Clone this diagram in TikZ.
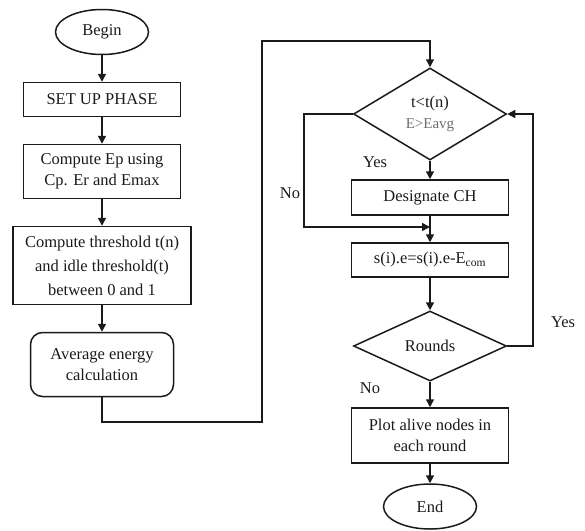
\documentclass[tikz,border=0pt]{standalone}
\usepackage{fontspec}
\setmainfont{Liberation Serif}
\usetikzlibrary{arrows.meta,positioning,shapes.geometric}
\definecolor{ink}{HTML}{1A1A1A}
\definecolor{soft}{HTML}{6E6E6E}

\begin{document}
\begin{tikzpicture}[x=1pt,y=-1pt,>={Triangle[length=8pt,width=8pt]},
  every node/.style={font=\fontsize{16.5}{21}\selectfont,text=ink},
  box/.style={draw=ink,line width=1.5pt,minimum width=157pt,align=center,inner sep=2pt},
  term/.style={draw=ink,line width=1.5pt,ellipse,minimum width=93pt,minimum height=45pt,inner sep=0pt},
  decide/.style={draw=ink,line width=1.5pt,diamond,align=center,inner sep=0pt,minimum width=153pt},
  lnk/.style={->,line width=1.5pt,draw=ink}]
\useasboundingbox (0,0) rectangle (585,530);
% left column
\node[term] (begin) at (102,32) {Begin};
\node[box,minimum height=34pt,below=26.5pt of begin] (setup) {SET UP PHASE};
\node[box,minimum height=54pt,below=26.5pt of setup] (ep) {Compute Ep using\\Cp. Er and Emax};
\node[box,minimum width=178pt,minimum height=78pt,below=26.5pt of ep] (thr) {Compute threshold t(n)\\[3pt]and idle threshold(t)\\[3pt]between 0 and 1};
\node[box,rounded corners=12pt,minimum width=143pt,minimum height=64pt,below=26.5pt of thr] (avg) {Average energy\\calculation};
\draw[lnk] (begin) -- (setup); \draw[lnk] (setup) -- (ep); \draw[lnk] (ep) -- (thr); \draw[lnk] (thr) -- (avg);
% right column
\node[decide,minimum height=92pt] (d1) at (430,114) {t<t(n)\\{\color{soft}\fontsize{15}{18}\selectfont E>Eavg}};
\node[box,minimum height=35pt,below=18.5pt of d1] (desig) {Designate CH};
\node[box,minimum height=34pt,below=26.5pt of desig] (sie) {s(i).e=s(i).e-E\textsubscript{com}};
\node[decide,minimum height=70pt,below=32.5pt of sie] (d2) {Rounds};
\node[box,minimum height=55pt,below=25.5pt of d2] (plot) {Plot alive nodes in\\each round};
\node[term,below=19.5pt of plot] (end) {End};
\draw[lnk] (d1) -- (desig); \draw[lnk] (desig) -- (sie); \draw[lnk] (sie) -- (d2);
\draw[lnk] (d2) -- (plot); \draw[lnk] (plot) -- (end);
% loops
\coordinate (jl) at (262,422);
\coordinate (jt) at (262,41);
\coordinate (nl) at (304,227);
\coordinate (nr) at (430,227);
\coordinate (yr) at (533,114);
\draw[lnk] (avg.south) |- (jl) -- (jt) -| (d1.north);
\draw[lnk] (d1.west) -| (nl) -- (nr);
\draw[lnk] (d2.east) -| (yr) -- (d1.east);
% branch labels
\node (yes1) at (375,162) {Yes};
\node (no1) at (290,193) {No};
\node (yes2) at (563,322) {Yes};
\node (no2) at (370,388) {No};
\end{tikzpicture}
\end{document}
